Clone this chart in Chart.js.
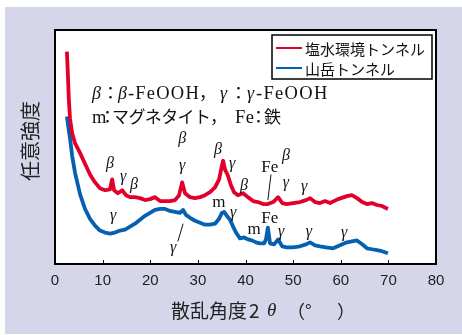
<!DOCTYPE html>
<html>
<head>
<meta charset="utf-8">
<script src="https://cdn.jsdelivr.net/npm/chart.js@4/dist/chart.umd.min.js"></script>
<style>
  html, body { margin: 0; padding: 0; background: #ffffff; }
  canvas { display: block; }
</style>
</head>
<body>
<canvas id="xrd" width="462" height="335"></canvas>
<script>
// X-ray diffraction patterns of rust samples from two tunnels
// scattering angle 2θ (degrees) and arbitrary intensity

const seriesNames = ['塩水環境トンネル', '山岳トンネル'];

const angleSaline = [2.5, 2.7, 2.9, 3.15, 3.6, 4.2, 5.25, 6.3, 7.35, 8.4, 9.45, 10.5, 11.55, 12.0, 12.4,
  13.2, 14.1, 14.9, 15.75, 16.8, 17.85, 18.9, 19.95, 21.0, 22.05, 23.1, 24.15, 25.2, 26.05, 26.7,
  27.3, 28.35, 29.4, 30.45, 31.5, 32.55, 33.6, 34.45, 35.05, 35.3, 35.7, 36.3, 36.95, 37.6, 38.4,
  39.5, 40.5, 41.6, 42.6, 43.7, 44.7, 45.8, 46.85, 47.7, 48.7, 50.0, 51.45, 52.7, 53.55, 54.6,
  55.65, 56.7, 57.75, 59.0, 60.05, 61.3, 62.35, 63.4, 64.5, 65.5, 66.55, 67.6, 68.65, 69.9];
const intensitySaline = [216, 193, 168, 148, 133, 123, 113, 102, 91, 83, 77, 75, 76, 86, 75,
  72, 75, 70, 68, 68, 67, 65, 66, 68, 64, 64, 64, 65, 70, 83,
  72, 68, 67, 68, 70, 73, 78, 86, 100, 105, 96, 90, 80, 73, 70,
  72, 68, 64, 63, 61, 61, 63, 68, 62, 61, 62, 63, 65, 67, 63,
  62, 64, 62, 65, 67, 69, 70, 67, 63, 61, 62, 60, 59, 56];

const angleMountain = [2.5, 2.9, 3.15, 3.6, 4.2, 5.25, 6.3, 7.35, 8.4, 9.45, 10.5, 11.55, 12.6, 13.65, 14.7,
  15.75, 16.8, 17.85, 18.9, 19.95, 21.0, 22.05, 23.1, 24.15, 25.2, 26.25, 26.9, 27.5, 28.35, 29.4,
  30.45, 31.5, 32.55, 33.6, 34.45, 35.05, 35.5, 36.1, 36.75, 37.4, 38.0, 38.85, 39.7, 40.5, 41.35,
  42.2, 43.05, 43.9, 44.3, 44.7, 45.15, 46.0, 46.85, 47.7, 48.7, 50.0, 51.45, 52.7, 53.55, 54.6,
  55.65, 56.9, 58.4, 59.85, 61.3, 62.35, 63.4, 64.5, 65.5, 66.55, 67.6, 68.65, 69.9];
const intensityMountain = [150, 136, 128, 110, 93, 71, 56, 46, 39, 34, 32, 31, 32, 34, 35,
  38, 41, 45, 49, 52, 55, 56, 56, 54, 53, 52, 55, 50, 47, 44,
  42, 40, 40, 41, 46, 52, 53, 49, 45, 38, 32, 26, 27, 25, 24,
  22, 21, 21, 25, 37, 21, 20, 25, 18, 17, 17, 18, 20, 22, 19,
  18, 17, 16, 19, 22, 23, 24, 20, 16, 15, 14, 13, 11];

const xTicks = [0, 10, 20, 30, 40, 50, 60, 70, 80];

// phase tags above the peaks: [text, 2θ, intensity]
const peakTags = [
  ['β', 11.55, 102], ['γ', 14.3, 89], ['β', 16.6, 81], ['β', 26.7, 127], ['γ', 26.7, 100],
  ['β', 34.2, 116], ['γ', 37.2, 102], ['β', 39.7, 80], ['Fe', 45.1, 98], ['β', 48.5, 110],
  ['γ', 48.5, 83], ['γ', 52.3, 79],
  ['γ', 12.2, 49], ['m', 34.4, 63], ['γ', 37.4, 52], ['m', 41.8, 35], ['Fe', 45.1, 46],
  ['γ', 47.5, 33], ['γ', 53.3, 33], ['γ', 60.7, 32], ['γ', 24.8, 16]
];
// leader lines: [2θ from, intensity from, 2θ to, intensity to]
const leaderLines = [
  [45.35, 91, 44.7, 65],
  [26.9, 41, 25.8, 23]
];

const RED = '#e2002a';
const BLUE = '#0560b0';
const PANEL = '#d6d6ea';

function toPoints(xs, ys) { return xs.map((x, i) => ({ x: x, y: ys[i] })); }

const SERIF = '"Liberation Serif", "Noto Sans CJK JP", serif';
const CJK = '"Noto Sans CJK JP", "Liberation Sans", sans-serif';

// draw a list of [text, font, x?, spacing?] runs; a run without x continues after the previous one
function drawRuns(ctx, runs, x, y) {
  let cx = x;
  for (const [t, f, at, sp] of runs) {
    if (at !== undefined && at !== null) cx = at;
    ctx.font = f;
    ctx.letterSpacing = sp || '0px';
    ctx.fillText(t, cx, y);
    cx += ctx.measureText(t).width;
  }
  ctx.letterSpacing = '0px';
}

const decor = {
  id: 'decor',
  beforeDraw(chart) {
    const ctx = chart.ctx, a = chart.chartArea;
    ctx.save();
    ctx.fillStyle = '#ffffff';
    ctx.fillRect(0, 0, chart.width, chart.height);
    ctx.fillStyle = PANEL;
    ctx.fillRect(5, 7, chart.width - 5, chart.height - 8);
    ctx.fillStyle = '#ffffff';
    ctx.fillRect(a.left, a.top, a.right - a.left, a.bottom - a.top);
    ctx.restore();
  },
  afterDraw(chart) {
    const ctx = chart.ctx, a = chart.chartArea;
    const xs = chart.scales.x, ys = chart.scales.y;
    ctx.save();

    // frame
    ctx.strokeStyle = '#000';
    ctx.lineWidth = 2;
    ctx.strokeRect(a.left, a.top, a.right - a.left, a.bottom - a.top);

    // inward tick marks on the angle axis
    ctx.lineWidth = 1;
    for (const v of xTicks) {
      const px = Math.round(xs.getPixelForValue(v)) + 0.5;
      ctx.beginPath();
      ctx.moveTo(px, a.bottom);
      ctx.lineTo(px, a.bottom - 4);
      ctx.stroke();
    }

    // leader lines
    ctx.strokeStyle = '#111';
    ctx.lineWidth = 1;
    for (const [x1, y1, x2, y2] of leaderLines) {
      ctx.beginPath();
      ctx.moveTo(xs.getPixelForValue(x1), ys.getPixelForValue(y1));
      ctx.lineTo(xs.getPixelForValue(x2), ys.getPixelForValue(y2));
      ctx.stroke();
    }

    // peak tags
    ctx.fillStyle = '#111';
    ctx.textAlign = 'center';
    ctx.textBaseline = 'middle';
    for (const [t, x, y] of peakTags) {
      const greek = (t === 'β' || t === 'γ');
      ctx.font = greek ? 'italic 16px ' + SERIF : '17px ' + SERIF;
      ctx.fillText(t, xs.getPixelForValue(x), ys.getPixelForValue(y));
    }

    // key to the tags
    ctx.textAlign = 'left';
    ctx.textBaseline = 'alphabetic';
    const it = 'italic 18px ' + SERIF, rm = '18.5px ' + SERIF, cj = '17px ' + CJK;
    drawRuns(ctx, [['β', it, 92], ['：', cj, 102], ['β', it, 118], ['-FeOOH', rm, 128, '1.2px'], ['，', cj, 199],
      ['γ', it, 220], ['：', cj, 230], ['γ', it, 247], ['-FeOOH', rm, 256, '1.3px']], 92, 99);
    drawRuns(ctx, [['m', rm, 92], ['：', cj, 99], ['マグネタイト', cj, 112, '-0.6px'], ['，', cj, 210],
      ['Fe', rm, 235, '0.5px'], ['：', cj, 250], ['鉄', cj, 264]], 92, 123);

    // legend
    ctx.fillStyle = '#fff';
    ctx.fillRect(272, 35, 160, 44);
    ctx.strokeStyle = '#000';
    ctx.lineWidth = 1.5;
    ctx.strokeRect(272, 35, 160, 44);
    chart.data.datasets.forEach((ds, i) => {
      const cy = 48 + i * 20;
      ctx.strokeStyle = ds.borderColor;
      ctx.lineWidth = 2;
      ctx.beginPath();
      ctx.moveTo(276, cy);
      ctx.lineTo(302, cy);
      ctx.stroke();
      ctx.fillStyle = '#111';
      ctx.font = '15px ' + CJK;
      ctx.textBaseline = 'middle';
      ctx.fillText(ds.label, 305, cy + 1);
    });

    // axis titles
    ctx.fillStyle = '#222';
    ctx.textBaseline = 'middle';
    drawRuns(ctx, [['散乱角度', '19px ' + CJK, 171], ['2', '19px ' + CJK, 249], ['θ', 'italic 19px ' + SERIF, 267],
      ['（', '18px ' + CJK, 287], ['°', '18px ' + CJK, 305], ['）', '18px ' + CJK, 337]], 171, 311);
    ctx.translate(30, 141);
    ctx.rotate(-Math.PI / 2);
    ctx.textAlign = 'center';
    ctx.font = '20px ' + CJK;
    ctx.fillText('任意強度', 0, 0);

    ctx.restore();
  }
};

new Chart(document.getElementById('xrd'), {
  type: 'line',
  data: {
    datasets: [
      { label: seriesNames[0], data: toPoints(angleSaline, intensitySaline),
        borderColor: RED, borderWidth: 3.8, pointRadius: 0, tension: 0, fill: false,
        borderJoinStyle: 'round' },
      { label: seriesNames[1], data: toPoints(angleMountain, intensityMountain),
        borderColor: BLUE, borderWidth: 3.8, pointRadius: 0, tension: 0, fill: false,
        borderJoinStyle: 'round' }
    ]
  },
  options: {
    responsive: false,
    devicePixelRatio: 1,
    animation: false,
    layout: { padding: { left: 55, top: 30, right: 26, bottom: 37 } },
    plugins: { legend: { display: false }, tooltip: { enabled: false } },
    scales: {
      x: {
        type: 'linear', min: 0, max: 80,
        afterBuildTicks: s => { s.ticks = xTicks.map(v => ({ value: v })); },
        ticks: { color: '#222', font: { family: 'Liberation Sans', size: 15 }, padding: 8, maxRotation: 0 },
        grid: { display: false, drawTicks: false },
        border: { display: false }
      },
      y: { type: 'linear', min: 0, max: 238, display: false }
    }
  },
  plugins: [decor]
});
</script>
</body>
</html>
